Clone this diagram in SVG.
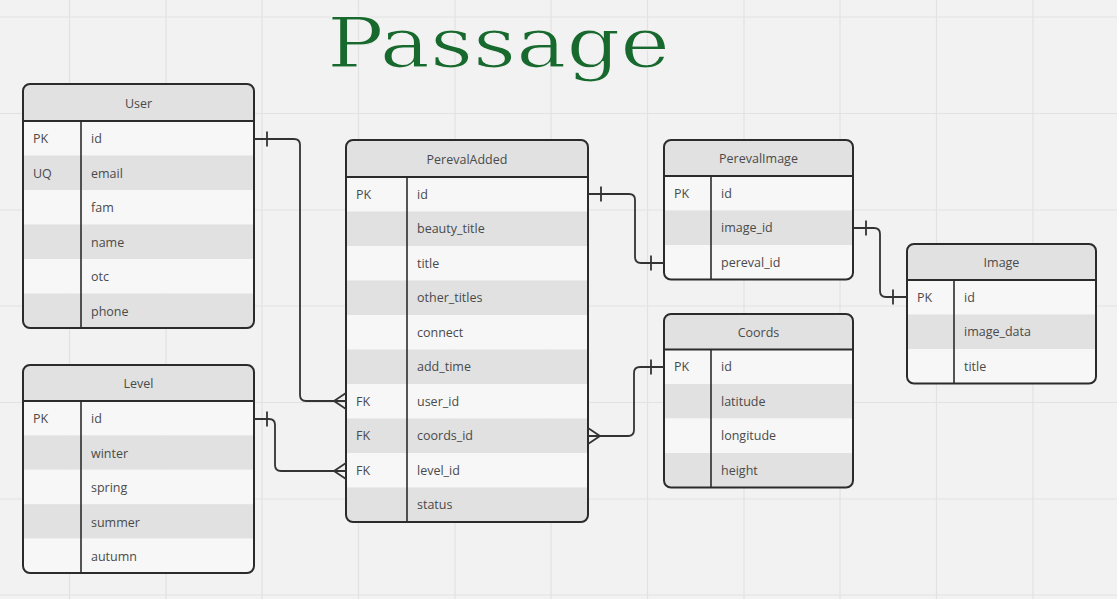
<svg xmlns="http://www.w3.org/2000/svg" width="1117" height="599" viewBox="0 0 1117 599">
<style>
.bg{fill:#f2f2f2}
.grid{stroke:#e2e2e2;stroke-width:1.2;fill:none}
.hdr{fill:#e1e1e1}
.lt{fill:#f7f7f7}
.dk{fill:#e1e1e1}
.frame{fill:none;stroke:#2b2b2b;stroke-width:2}
.sep{stroke:#2b2b2b;stroke-width:2}
.div{stroke:#2b2b2b;stroke-width:1.6}
.t{font-family:"Open Sans","Noto Sans",sans-serif;font-size:12.5px;fill:#4a4a4a}
.h{text-anchor:middle}
.conn{fill:none;stroke:#333;stroke-width:1.8;stroke-linejoin:round}
.title{font-family:"DejaVu Serif","Liberation Serif",serif;font-size:70px;fill:#17692d;stroke:#f2f2f2;stroke-width:1.2}
</style>
<defs>
<clipPath id="cUser"><rect x="23" y="84" width="231" height="244" rx="7"/></clipPath>
<clipPath id="cLevel"><rect x="23" y="365" width="231" height="208" rx="7"/></clipPath>
<clipPath id="cPA"><rect x="346" y="140" width="242" height="382" rx="7"/></clipPath>
<clipPath id="cPI"><rect x="664" y="140" width="189" height="139.5" rx="7"/></clipPath>
<clipPath id="cImg"><rect x="907" y="244" width="189" height="139.5" rx="7"/></clipPath>
<clipPath id="cCo"><rect x="664" y="314" width="189" height="173.5" rx="7"/></clipPath>
</defs>
<rect class="bg" x="0" y="0" width="1117" height="599"/>
<g id="grid" class="grid">
<path d="M69.5,0V599M166,0V599M262,0V599M358.5,0V599M455,0V599M551,0V599M647.5,0V599M744,0V599M840,0V599M936.5,0V599M1033,0V599"/>
<path d="M0,17H1117M0,113.5H1117M0,210H1117M0,306H1117M0,402.5H1117M0,499H1117M0,595H1117"/>
</g>
<text id="title" class="title" x="327" y="67" textLength="343" lengthAdjust="spacingAndGlyphs">Passage</text>

<g id="User">
<g clip-path="url(#cUser)">
<rect class="hdr" x="23" y="84" width="231" height="37"/>
<rect class="lt" x="23" y="121" width="231" height="34.5"/>
<rect class="dk" x="23" y="155.5" width="231" height="34.5"/>
<rect class="lt" x="23" y="190" width="231" height="34.5"/>
<rect class="dk" x="23" y="224.5" width="231" height="34.5"/>
<rect class="lt" x="23" y="259" width="231" height="34.5"/>
<rect class="dk" x="23" y="293.5" width="231" height="34.5"/>
</g>
<line class="sep" x1="23" y1="121" x2="254" y2="121"/>
<line class="div" x1="81" y1="121" x2="81" y2="328"/>
<rect class="frame" x="23" y="84" width="231" height="244" rx="7"/>
<text class="t h" x="138.5" y="107.5">User</text>
<text class="t" x="33" y="143">PK</text><text class="t" x="91" y="143">id</text>
<text class="t" x="33" y="177.5">UQ</text><text class="t" x="91" y="177.5">email</text>
<text class="t" x="91" y="212">fam</text>
<text class="t" x="91" y="246.5">name</text>
<text class="t" x="91" y="281">otc</text>
<text class="t" x="91" y="315.5">phone</text>
</g>

<g id="Level">
<g clip-path="url(#cLevel)">
<rect class="hdr" x="23" y="365" width="231" height="36"/>
<rect class="lt" x="23" y="401" width="231" height="34.4"/>
<rect class="dk" x="23" y="435.4" width="231" height="34.4"/>
<rect class="lt" x="23" y="469.8" width="231" height="34.4"/>
<rect class="dk" x="23" y="504.2" width="231" height="34.4"/>
<rect class="lt" x="23" y="538.6" width="231" height="34.4"/>
</g>
<line class="sep" x1="23" y1="401" x2="254" y2="401"/>
<line class="div" x1="81" y1="401" x2="81" y2="573"/>
<rect class="frame" x="23" y="365" width="231" height="208" rx="7"/>
<text class="t h" x="138.5" y="388">Level</text>
<text class="t" x="33" y="423">PK</text><text class="t" x="91" y="423">id</text>
<text class="t" x="91" y="457.5">winter</text>
<text class="t" x="91" y="492">spring</text>
<text class="t" x="91" y="526.5">summer</text>
<text class="t" x="91" y="561">autumn</text>
</g>

<g id="PerevalAdded">
<g clip-path="url(#cPA)">
<rect class="hdr" x="346" y="140" width="242" height="37"/>
<rect class="lt" x="346" y="177" width="242" height="34.5"/>
<rect class="dk" x="346" y="211.5" width="242" height="34.5"/>
<rect class="lt" x="346" y="246" width="242" height="34.5"/>
<rect class="dk" x="346" y="280.5" width="242" height="34.5"/>
<rect class="lt" x="346" y="315" width="242" height="34.5"/>
<rect class="dk" x="346" y="349.5" width="242" height="34.5"/>
<rect class="lt" x="346" y="384" width="242" height="34.5"/>
<rect class="dk" x="346" y="418.5" width="242" height="34.5"/>
<rect class="lt" x="346" y="453" width="242" height="34.5"/>
<rect class="dk" x="346" y="487.5" width="242" height="34.5"/>
</g>
<line class="sep" x1="346" y1="177" x2="588" y2="177"/>
<line class="div" x1="407" y1="177" x2="407" y2="522"/>
<rect class="frame" x="346" y="140" width="242" height="382" rx="7"/>
<text class="t h" x="467" y="163.5">PerevalAdded</text>
<text class="t" x="356" y="198.5">PK</text><text class="t" x="417" y="198.5">id</text>
<text class="t" x="417" y="233">beauty_title</text>
<text class="t" x="417" y="267.5">title</text>
<text class="t" x="417" y="302">other_titles</text>
<text class="t" x="417" y="336.5">connect</text>
<text class="t" x="417" y="371">add_time</text>
<text class="t" x="356" y="405.5">FK</text><text class="t" x="417" y="405.5">user_id</text>
<text class="t" x="356" y="440">FK</text><text class="t" x="417" y="440">coords_id</text>
<text class="t" x="356" y="474.5">FK</text><text class="t" x="417" y="474.5">level_id</text>
<text class="t" x="417" y="509">status</text>
</g>

<g id="PerevalImage">
<g clip-path="url(#cPI)">
<rect class="hdr" x="664" y="140" width="189" height="36"/>
<rect class="lt" x="664" y="176" width="189" height="34.5"/>
<rect class="dk" x="664" y="210.5" width="189" height="34.5"/>
<rect class="lt" x="664" y="245" width="189" height="34.5"/>
</g>
<line class="sep" x1="664" y1="176" x2="853" y2="176"/>
<line class="div" x1="711" y1="176" x2="711" y2="279.5"/>
<rect class="frame" x="664" y="140" width="189" height="139.5" rx="7"/>
<text class="t h" x="758.5" y="163">PerevalImage</text>
<text class="t" x="674" y="197.5">PK</text><text class="t" x="721" y="197.5">id</text>
<text class="t" x="721" y="232">image_id</text>
<text class="t" x="721" y="266.5">pereval_id</text>
</g>

<g id="Image">
<g clip-path="url(#cImg)">
<rect class="hdr" x="907" y="244" width="189" height="36"/>
<rect class="lt" x="907" y="280" width="189" height="34.5"/>
<rect class="dk" x="907" y="314.5" width="189" height="34.5"/>
<rect class="lt" x="907" y="349" width="189" height="34.5"/>
</g>
<line class="sep" x1="907" y1="280" x2="1096" y2="280"/>
<line class="div" x1="954" y1="280" x2="954" y2="383.5"/>
<rect class="frame" x="907" y="244" width="189" height="139.5" rx="7"/>
<text class="t h" x="1001.5" y="267">Image</text>
<text class="t" x="917" y="301.5">PK</text><text class="t" x="964" y="301.5">id</text>
<text class="t" x="964" y="336">image_data</text>
<text class="t" x="964" y="370.5">title</text>
</g>

<g id="Coords">
<g clip-path="url(#cCo)">
<rect class="hdr" x="664" y="314" width="189" height="35.5"/>
<rect class="lt" x="664" y="349.5" width="189" height="34.5"/>
<rect class="dk" x="664" y="384" width="189" height="34.5"/>
<rect class="lt" x="664" y="418.5" width="189" height="34.5"/>
<rect class="dk" x="664" y="453" width="189" height="34.5"/>
</g>
<line class="sep" x1="664" y1="349.5" x2="853" y2="349.5"/>
<line class="div" x1="711" y1="349.5" x2="711" y2="487.5"/>
<rect class="frame" x="664" y="314" width="189" height="173.5" rx="7"/>
<text class="t h" x="758.5" y="336.5">Coords</text>
<text class="t" x="674" y="371">PK</text><text class="t" x="721" y="371">id</text>
<text class="t" x="721" y="405.5">latitude</text>
<text class="t" x="721" y="440">longitude</text>
<text class="t" x="721" y="474.5">height</text>
</g>

<g id="connectors" class="conn">
<path d="M254,139H294Q300,139 300,145V395Q300,401 306,401H346"/>
<path d="M267,131.5V146.5"/>
<path d="M346,393L334,401L346,409"/>
<path d="M254,419H269Q275,419 275,425V465Q275,471 281,471H346"/>
<path d="M267,411.5V426.5"/>
<path d="M346,463L334,471L346,479"/>
<path d="M588,194H629Q635,194 635,200V257Q635,263 641,263H664"/>
<path d="M601,186.5V201.5M651,255.5V270.5"/>
<path d="M853,228H874Q880,228 880,234V291Q880,297 886,297H907"/>
<path d="M866,220.5V235.5M893,289.5V304.5"/>
<path d="M588,436H628Q634,436 634,430V373Q634,367 640,367H664"/>
<path d="M651,359.5V374.5"/>
<path d="M588,428L600,436L588,444"/>
</g>
</svg>
